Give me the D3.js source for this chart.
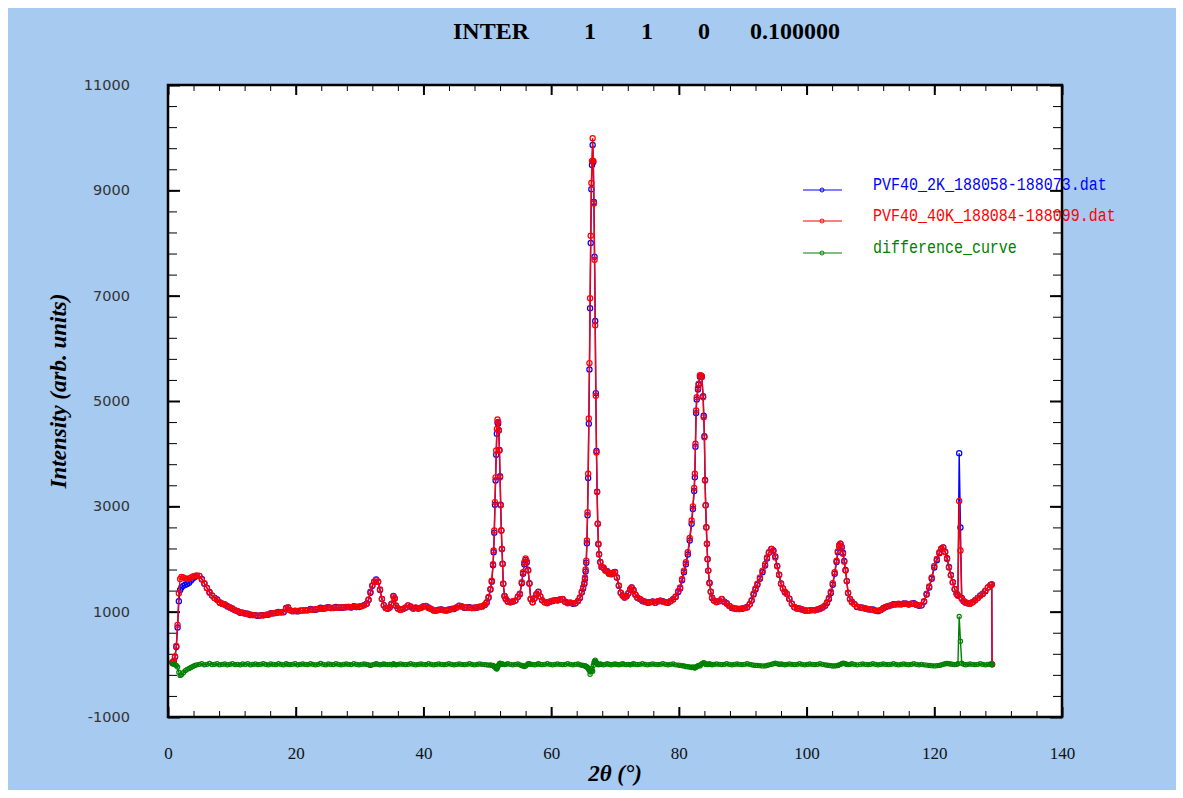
<!DOCTYPE html>
<html><head><meta charset="utf-8">
<script src="https://cdn.jsdelivr.net/npm/d3@7"></script>
<style>html,body{margin:0;padding:0;background:#fff;} svg{display:block;}</style>
</head><body><svg id="chart" width="1183" height="798"></svg>
<script>
const titleParts = ["INTER","1","1","0","0.100000"];
const xTickValues = [0,20,40,60,80,100,120,140];
const yTickValues = [-1000,1000,3000,5000,7000,9000,11000];
const seriesNames = ["PVF40_2K_188058-188073.dat","PVF40_40K_188084-188099.dat","difference_curve"];
const xAxisTitle = "2θ (°)";
const yAxisTitle = "Intensity (arb. units)";

const twoTheta = [
0.7,0.9,1.1,1.3,1.5,1.7,1.9,2.1,2.4,2.7,3.0,3.3,3.6,3.9,4.2,4.5,
4.9,5.3,5.7,6.1,6.5,6.9,7.3,7.7,8.1,8.5,
8.9,9.3,9.7,10.1,10.5,10.9,11.3,11.7,12.1,12.5,
12.9,13.3,13.7,14.1,14.5,14.9,15.3,15.7,16.1,16.5,
16.9,17.3,17.7,18.1,18.5,18.8,19.1,19.5,19.9,20.3,
20.7,21.1,21.5,21.9,22.3,22.7,23.1,23.5,23.9,24.3,
24.7,25.1,25.5,25.9,26.3,26.7,27.1,27.5,27.9,28.3,
28.7,29.1,29.5,29.9,30.3,30.7,31.1,31.4,31.7,32.0,
32.3,32.6,32.9,33.2,33.5,33.8,34.1,34.4,34.7,35.0,
35.3,35.5,35.7,36.0,36.4,36.8,37.2,37.6,38.0,38.4,
38.8,39.2,39.6,40.0,40.4,40.8,41.2,41.6,42.0,42.4,
42.8,43.2,43.6,44.0,44.4,44.8,45.2,45.6,46.0,46.4,
46.8,47.2,47.6,48.0,48.4,48.8,49.2,49.6,49.9,50.2,
50.5,50.7,50.9,51.0,51.1,51.2,51.3,51.4,51.5,51.6,
51.7,51.8,51.9,52.0,52.1,52.2,52.3,52.4,52.5,52.7,
52.9,53.2,53.6,54.0,54.4,54.8,55.1,55.4,55.6,55.8,
56.0,56.2,56.4,56.6,56.8,57.1,57.4,57.7,58.0,58.3,
58.6,59.0,59.4,59.8,60.2,60.6,61.0,61.4,61.8,62.2,
62.6,63.0,63.4,63.8,64.2,64.5,64.8,65.0,65.2,65.3,
65.4,65.5,65.6,65.7,65.8,65.9,66.0,66.1,66.2,66.3,
66.4,66.5,66.6,66.7,66.8,66.9,67.0,67.1,67.2,67.3,
67.4,67.5,67.7,67.9,68.2,68.5,68.8,69.1,69.4,69.7,
70.0,70.3,70.6,70.9,71.2,71.5,71.8,72.1,72.4,72.6,
72.9,73.2,73.5,73.9,74.3,74.7,75.1,75.5,75.9,76.3,
76.7,77.1,77.5,77.9,78.3,78.7,79.1,79.5,79.9,80.2,
80.5,80.8,81.1,81.4,81.7,82.0,82.2,82.4,82.5,82.6,
82.7,82.8,83.0,83.1,83.3,83.5,83.6,83.8,83.9,84.0,
84.1,84.2,84.3,84.4,84.5,84.6,84.8,85.0,85.2,85.5,
85.9,86.3,86.7,87.1,87.5,87.9,88.3,88.7,89.1,89.5,
89.9,90.3,90.7,91.1,91.4,91.7,92.0,92.3,92.7,93.1,
93.5,93.8,94.1,94.5,94.8,95.1,95.4,95.7,96.0,96.3,
96.6,96.9,97.3,97.7,98.1,98.5,98.9,99.3,99.7,100.1,
100.5,100.9,101.3,101.7,102.1,102.5,102.9,103.2,103.5,103.8,
104.1,104.4,104.7,104.9,105.1,105.3,105.5,105.7,105.9,106.1,
106.3,106.5,106.8,107.1,107.5,107.9,108.4,108.8,109.2,109.6,
110.0,110.4,110.8,111.2,111.6,112.0,112.4,112.8,113.2,113.6,
114.0,114.4,114.8,115.2,115.6,116.0,116.4,116.8,117.2,117.6,
118.0,118.4,118.8,119.2,119.6,120.0,120.4,120.8,121.1,121.4,
121.7,122.0,122.3,122.6,122.9,123.2,123.5,123.7,123.9,124.1,
124.3,124.6,124.9,125.2,125.6,126.0,126.4,126.8,127.2,127.6,
128.0,128.4,128.8,129.0,129.05
];

// PVF40_2K (blue)
const pvf2K = [
40,60,140,330,700,1200,1410,1460,1490,1510,1525,1550,1590,1630,1660,1680,
1680,1620,1530,1450,1375,1305,1260,1230,1170,1150,
1135,1100,1080,1060,1025,1010,980,980,965,960,
935,935,935,920,930,935,940,940,970,970,
975,995,990,990,1070,1080,1025,1010,1020,1005,
1020,1025,1025,1025,1050,1035,1035,1050,1075,1055,
1065,1085,1070,1070,1090,1075,1075,1080,1090,1090,
1080,1105,1090,1090,1105,1125,1150,1220,1360,1490,
1570,1610,1570,1410,1240,1125,1070,1055,1080,1140,
1300,1250,1110,1060,1035,1050,1075,1120,1100,1060,
1070,1060,1075,1100,1105,1080,1050,1020,1020,1035,
1040,1025,1020,1040,1050,1050,1080,1115,1100,1075,
1080,1085,1070,1070,1080,1095,1100,1125,1170,1265,
1420,1570,1880,2130,2500,3030,3490,3980,4380,4590,
4570,4440,4070,3570,3030,2540,2190,1910,1530,1295,
1240,1200,1180,1190,1210,1285,1330,1540,1720,1900,
1980,1940,1790,1540,1240,1180,1250,1330,1380,1290,
1215,1180,1170,1190,1200,1220,1215,1230,1235,1190,
1170,1170,1150,1160,1205,1260,1365,1440,1525,1620,
1765,1930,2300,2830,3540,4570,5600,6760,8000,9020,
9480,9860,9540,8780,7740,6520,5150,4050,3280,2670,
2280,2090,1945,1850,1830,1780,1770,1720,1710,1740,
1755,1650,1490,1360,1310,1270,1295,1350,1420,1460,
1410,1320,1265,1240,1210,1190,1170,1180,1195,1170,
1195,1210,1200,1180,1170,1200,1235,1280,1375,1440,
1595,1750,1900,2085,2350,2670,2950,3290,3550,4130,
4770,5030,5220,5310,5460,5480,5465,5090,4720,4330,
3500,3020,2605,2290,1995,1780,1550,1380,1260,1210,
1185,1200,1235,1190,1160,1110,1070,1060,1055,1050,
1055,1070,1090,1140,1210,1325,1420,1510,1625,1750,
1875,2010,2120,2190,2160,2050,1870,1700,1535,1440,
1370,1340,1245,1150,1085,1060,1060,1040,1020,1020,
1025,1030,1025,1040,1060,1080,1110,1165,1240,1355,
1510,1720,1945,2130,2250,2290,2230,2120,1965,1790,
1580,1355,1240,1190,1140,1090,1080,1075,1060,1045,
1040,1040,1020,1010,1030,1065,1090,1105,1120,1140,
1140,1140,1140,1155,1150,1135,1150,1160,1130,1110,
1120,1190,1325,1460,1625,1840,1975,2110,2190,2220,
2140,2015,1850,1695,1560,1425,1340,1310,4010,2600,
1260,1200,1170,1160,1155,1180,1215,1260,1310,1340,
1390,1460,1505,1515,0
];

// PVF40_40K (red)
const pvf40K = [
30,60,150,350,750,1350,1620,1660,1650,1630,1620,1630,1650,1670,1680,1690,
1680,1610,1540,1450,1360,1310,1260,1220,1180,1150,
1130,1110,1080,1050,1030,1010,990,975,965,950,
945,935,930,925,930,925,940,950,965,970,
980,985,990,1000,1060,1080,1030,1010,1010,1015,
1020,1020,1025,1030,1040,1035,1045,1050,1060,1055,
1075,1080,1070,1075,1080,1075,1085,1080,1085,1090,
1085,1095,1090,1100,1105,1120,1150,1230,1380,1500,
1570,1600,1570,1420,1240,1120,1070,1060,1080,1150,
1290,1250,1120,1060,1030,1050,1080,1120,1090,1060,
1080,1060,1070,1100,1110,1070,1050,1030,1020,1030,
1040,1030,1020,1030,1050,1060,1080,1110,1100,1080,
1080,1075,1070,1080,1080,1090,1100,1130,1180,1280,
1430,1590,1900,2160,2540,3080,3550,4060,4470,4650,
4600,4450,4060,3550,3020,2540,2190,1905,1530,1300,
1240,1190,1180,1200,1210,1280,1340,1560,1750,1940,
2010,1950,1780,1530,1240,1180,1260,1330,1370,1290,
1220,1180,1160,1190,1210,1220,1210,1230,1240,1190,
1160,1170,1160,1160,1200,1270,1380,1460,1550,1650,
1800,1970,2350,2890,3620,4670,5720,6950,8140,9140,
9560,9990,9560,8750,7680,6440,5100,4020,3270,2670,
2290,2090,1940,1850,1840,1780,1760,1720,1720,1740,
1750,1650,1500,1360,1300,1270,1300,1350,1430,1460,
1400,1320,1270,1240,1200,1190,1180,1180,1190,1170,
1200,1210,1190,1180,1180,1200,1230,1290,1390,1460,
1620,1780,1940,2130,2400,2730,3000,3350,3620,4190,
4820,5070,5250,5330,5490,5480,5455,5070,4690,4310,
3490,3020,2600,2290,2000,1780,1540,1380,1270,1210,
1180,1200,1240,1190,1150,1110,1080,1060,1050,1050,
1060,1070,1080,1140,1220,1340,1440,1530,1650,1780,
1905,2030,2130,2190,2150,2030,1860,1700,1530,1440,
1380,1340,1240,1150,1090,1060,1050,1040,1030,1020,
1020,1030,1030,1040,1050,1080,1120,1180,1260,1380,
1540,1750,1970,2150,2260,2290,2220,2100,1950,1780,
1580,1360,1240,1180,1140,1100,1080,1070,1060,1050,
1040,1030,1020,1020,1030,1060,1090,1110,1120,1130,
1140,1150,1140,1150,1150,1140,1150,1150,1130,1120,
1120,1200,1340,1480,1650,1870,2000,2130,2200,2220,
2130,2000,1840,1690,1560,1430,1340,1300,3100,2160,
1240,1200,1180,1160,1150,1180,1220,1260,1300,1340,
1400,1460,1500,1515,0
];

// difference_curve (green)
const difference = [
10,0,-10,-20,-50,-150,-210,-200,-160,-120,-95,-80,-60,-40,-20,-10,
0,10,-10,0,15,-5,0,10,-10,0,
5,-10,0,10,-5,0,-10,5,0,10,
-10,0,5,-5,0,10,0,-10,5,0,
-5,10,0,-10,10,0,-5,0,10,-10,
0,5,0,-5,10,0,-10,0,15,0,
-10,5,0,-5,10,0,-10,0,5,0,
-5,10,0,-10,0,5,0,-10,-20,-10,
0,10,0,-10,0,5,0,-5,0,-10,
10,0,-10,0,5,0,-5,0,10,0,
-10,0,5,0,-5,10,0,-10,0,5,
0,-5,0,10,0,-10,0,5,0,-5,
0,10,0,-10,0,5,0,-5,-10,-15,
-10,-20,-20,-30,-40,-50,-60,-80,-90,-60,
-30,-10,10,20,10,0,0,5,0,-5,
0,10,0,-10,0,5,-10,-20,-30,-40,
-30,-10,10,10,0,0,-10,0,10,0,
-5,0,10,0,-10,0,5,0,-5,0,
10,0,-10,0,5,-10,-15,-20,-25,-30,
-35,-40,-50,-60,-80,-100,-120,-190,-140,-120,
-80,-130,-20,30,60,80,50,30,10,0,
-10,0,5,0,-10,0,10,0,-10,0,
5,0,-10,0,10,0,-5,0,-10,0,
10,0,-5,0,10,0,-10,0,5,0,
-5,0,10,0,-10,0,5,-10,-15,-20,
-25,-30,-40,-45,-50,-60,-50,-60,-70,-60,
-50,-40,-30,-20,-30,0,10,20,30,20,
10,0,5,0,-5,0,10,0,-10,0,
5,0,-5,0,10,0,-10,0,5,0,
-5,0,10,0,-10,-15,-20,-20,-25,-30,
-30,-20,-10,0,10,20,10,0,5,0,
-10,0,5,0,-5,0,10,0,-10,0,
5,0,-5,0,10,0,-10,-15,-20,-25,
-30,-30,-25,-20,-10,0,10,20,15,10,
0,-5,0,10,0,-10,0,5,0,-5,
0,10,0,-10,0,5,0,-5,0,10,
0,-10,0,5,0,-5,0,10,0,-10,
0,-10,-15,-20,-25,-30,-25,-20,-10,0,
10,15,10,5,0,-5,0,10,910,440,
20,0,-10,0,5,0,-5,0,10,0,
-10,0,5,0,0
];

const colors = ["#0000FF","#FF0000","#008000"];

const svg = d3.select("#chart");
const W = 1183, H = 798;
svg.append("rect").attr("width",W).attr("height",H).attr("fill","#ffffff");
svg.append("rect").attr("x",8).attr("y",8).attr("width",1168).attr("height",782).attr("fill","#A6CAF0");

const L = 168, R = 1062, T = 85, B = 717;
const x = d3.scaleLinear().domain([0,140]).range([L,R]);
const y = d3.scaleLinear().domain([-1000,11000]).range([B,T]);

svg.append("rect").attr("x",L).attr("y",T).attr("width",R-L).attr("height",B-T).attr("fill","#ffffff");

// title
const titleX = [491, 590, 647, 704, 795];
svg.append("g").selectAll("text").data(titleParts).join("text")
  .attr("x",(d,i)=>titleX[i]).attr("y",39)
  .attr("text-anchor","middle")
  .attr("font-family","'Liberation Serif','Times New Roman',serif")
  .attr("font-weight","bold").attr("font-size","24px").attr("fill","#000")
  .text(d=>d);

// axes
const xMinor = d3.range(0,141,4);
const yMinor = d3.range(-1000,11001,400);
function styleAxis(g){ g.select(".domain").remove(); g.selectAll(".tick line").attr("stroke","#000"); }

svg.append("g").attr("transform",`translate(0,${B})`)
  .call(d3.axisBottom(x).tickValues(xMinor).tickSize(-6).tickFormat(""))
  .call(styleAxis).selectAll(".tick line").attr("stroke-width",1);
svg.append("g").attr("transform",`translate(0,${T})`)
  .call(d3.axisTop(x).tickValues(xMinor).tickSize(-6).tickFormat(""))
  .call(styleAxis).selectAll(".tick line").attr("stroke-width",1);
const xMaj = svg.append("g").attr("transform",`translate(0,${B})`)
  .call(d3.axisBottom(x).tickValues(xTickValues).tickSize(-10).tickPadding(30).tickFormat(d3.format("d")))
  .call(styleAxis);
xMaj.selectAll(".tick line").attr("stroke-width",2);
xMaj.selectAll(".tick text").attr("font-family","'Liberation Serif','Times New Roman',serif")
  .attr("font-size","17px").attr("fill","#111");
svg.append("g").attr("transform",`translate(0,${T})`)
  .call(d3.axisTop(x).tickValues(xTickValues).tickSize(-10).tickFormat(""))
  .call(styleAxis).selectAll(".tick line").attr("stroke-width",2);

svg.append("g").attr("transform",`translate(${L},0)`)
  .call(d3.axisLeft(y).tickValues(yMinor).tickSize(-9).tickFormat(""))
  .call(styleAxis).selectAll(".tick line").attr("stroke-width",1);
svg.append("g").attr("transform",`translate(${R},0)`)
  .call(d3.axisRight(y).tickValues(yMinor).tickSize(-9).tickFormat(""))
  .call(styleAxis).selectAll(".tick line").attr("stroke-width",1);
const yMaj = svg.append("g").attr("transform",`translate(${L},0)`)
  .call(d3.axisLeft(y).tickValues(yTickValues).tickSize(-12).tickPadding(38).tickFormat(d3.format("d")))
  .call(styleAxis);
yMaj.selectAll(".tick line").attr("stroke-width",2);
yMaj.selectAll(".tick text").attr("font-family","'DejaVu Sans',Verdana,sans-serif")
  .attr("font-size","14.5px").attr("fill","#333").text(d=> d<0 ? "-"+Math.abs(d) : d);
svg.append("g").attr("transform",`translate(${R},0)`)
  .call(d3.axisRight(y).tickValues(yTickValues).tickSize(-12).tickFormat(""))
  .call(styleAxis).selectAll(".tick line").attr("stroke-width",2);

// axis titles
svg.append("text").attr("x",(L+R)/2).attr("y",781).attr("text-anchor","middle")
  .attr("font-family","'Liberation Serif','Times New Roman',serif")
  .attr("font-weight","bold").attr("font-style","italic").attr("font-size","23px").text(xAxisTitle);
svg.append("text").attr("transform","translate(66,391) rotate(-90)").attr("text-anchor","middle")
  .attr("font-family","'Liberation Serif','Times New Roman',serif")
  .attr("font-weight","bold").attr("font-style","italic").attr("font-size","23px").text(yAxisTitle);

// series
const seriesData = [pvf2K, pvf40K, difference].map(vals => d3.zip(twoTheta, vals));
const line = d3.line().x(d=>x(d[0])).y(d=>y(d[1]));
const markerR = [2.6, 2.6, 2.1];
seriesData.forEach((data, i) => {
  const g = svg.append("g");
  g.append("path").datum(data).attr("d",line).attr("fill","none")
    .attr("stroke",colors[i]).attr("stroke-width",1.4);
  g.selectAll("circle").data(data).join("circle")
    .attr("cx",d=>x(d[0])).attr("cy",d=>y(d[1])).attr("r",markerR[i])
    .attr("fill","none").attr("stroke",colors[i]).attr("stroke-width",1.2);
});

// legend
const legY = [190, 221, 253];
const lg = svg.append("g");
seriesNames.forEach((name,i) => {
  lg.append("line").attr("x1",803).attr("x2",842).attr("y1",legY[i]).attr("y2",legY[i])
    .attr("stroke",colors[i]).attr("stroke-width",1.2);
  lg.append("circle").attr("cx",822).attr("cy",legY[i]).attr("r",2)
    .attr("fill","none").attr("stroke",colors[i]).attr("stroke-width",1);
  lg.append("text").attr("transform",`translate(873,${legY[i]}) scale(1,1.2)`)
    .attr("font-family","'Liberation Mono','Courier New',monospace")
    .attr("font-size","15px").attr("fill",colors[i]).text(name);
});

// frame
svg.append("rect").attr("x",L).attr("y",T).attr("width",R-L).attr("height",B-T)
  .attr("fill","none").attr("stroke","#000").attr("stroke-width",2.5);
</script>
</body></html>
